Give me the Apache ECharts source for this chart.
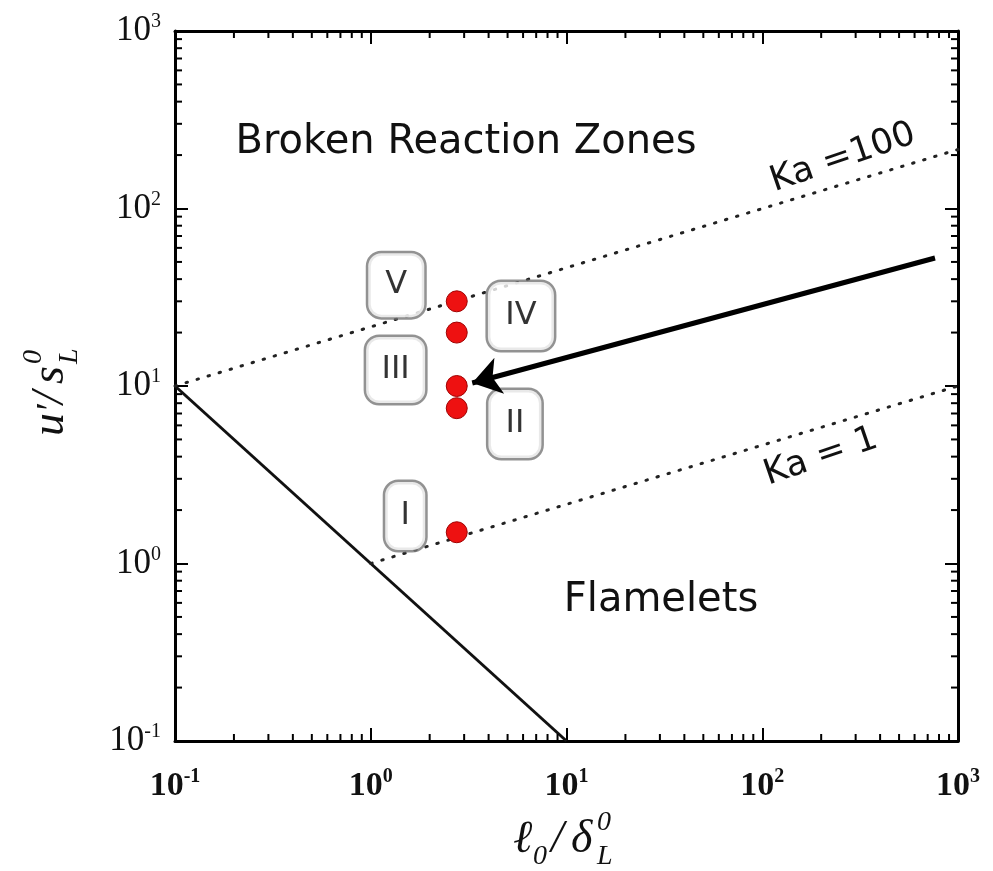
<!DOCTYPE html>
<html>
<head>
<meta charset="utf-8">
<script src="https://cdn.jsdelivr.net/npm/echarts@6/dist/echarts.min.js"></script>
<style>
  html, body { margin: 0; padding: 0; background: #fff; }
  #chart { width: 993px; height: 871px; }
</style>
</head>
<body>
<div id="chart"></div>
<script>
// Regime boundaries on the (l0/dL, u'/sL) diagram
const kolmogorovLine = [[0.1, 10], [10, 0.1]];
const ka100Line = [[0.1, 10], [1000, 215]];
const ka1Line = [[1, 1], [1000, 10]];

// Simulated cases
const caseX = [2.75, 2.75, 2.75, 2.75, 2.75];
const caseY = [30, 20, 10, 7.5, 1.5];

// Case tags and their anchor positions (data units)
const caseNames = ['V', 'IV', 'III', 'II', 'I'];
const caseTagX = [1.35, 5.85, 1.34, 5.45, 1.5];
const caseTagY = [37, 24.8, 12.3, 6.1, 1.85];

// Pointer arrow (data units)
const arrowFrom = [763, 52.6];
const arrowTo = [3.3, 10.4];

// Axis ranges and tick values
const axisMin = 0.1, axisMax = 1000;
const decades = [0.1, 1, 10, 100];
const minorSteps = [2, 3, 4, 5, 6, 7, 8, 9];

const minorValues = [];
decades.forEach(d => minorSteps.forEach(m => minorValues.push(+(d * m).toPrecision(3))));

const tagBox = {
  V:   { w: 56, h: 64 },
  IV:  { w: 66, h: 68 },
  III: { w: 59, h: 66 },
  II:  { w: 53, h: 68 },
  I:   { w: 40, h: 68 }
};

const chart = echarts.init(document.getElementById('chart'), null, { renderer: 'canvas' });

function expLabel(v) {
  const e = Math.round(Math.log10(v));
  return '{b|10}{s|' + e + '}';
}

const axisLineStyle = { show: true, lineStyle: { color: '#000', width: 3 } };
const majorTick = { show: true, inside: true, length: 13, lineStyle: { color: '#000', width: 2 } };

function logAxis(extra) {
  return Object.assign({
    type: 'log', logBase: 10, min: axisMin, max: axisMax,
    axisLine: axisLineStyle, axisTick: majorTick,
    splitLine: { show: false }, minorTick: { show: false }
  }, extra);
}

function minorTicks(axis) {
  const data = minorValues.map(v => axis === 'x' ? [v, axisMin] : [axisMin, v]);
  return {
    type: 'custom', silent: true, clip: false, z: 6,
    xAxisIndex: 0, yAxisIndex: 0,
    encode: { x: 0, y: 1 },
    data: data,
    renderItem: function (params, api) {
      const st = { stroke: '#000', lineWidth: 2 };
      if (axis === 'x') {
        const v = api.value(0);
        const b = api.coord([v, axisMin]);
        const t = api.coord([v, axisMax]);
        return { type: 'group', children: [
          { type: 'line', shape: { x1: b[0], y1: b[1], x2: b[0], y2: b[1] - 7 }, style: st },
          { type: 'line', shape: { x1: t[0], y1: t[1], x2: t[0], y2: t[1] + 7 }, style: st }
        ] };
      }
      const v = api.value(1);
      const l = api.coord([axisMin, v]);
      const r = api.coord([axisMax, v]);
      return { type: 'group', children: [
        { type: 'line', shape: { x1: l[0], y1: l[1], x2: l[0] + 7, y2: l[1] }, style: st },
        { type: 'line', shape: { x1: r[0], y1: r[1], x2: r[0] - 7, y2: r[1] }, style: st }
      ] };
    }
  };
}

const mathFont = 'Liberation Serif';
const sansFont = 'DejaVu Sans';

function mathText(x, y, text, size, extra) {
  return Object.assign({
    type: 'text', x: x, y: y,
    style: { text: text, font: 'italic ' + size + 'px "' + mathFont + '"', fill: '#111',
             textAlign: 'left', textVerticalAlign: 'bottom' }
  }, extra || {});
}

const option = {
  backgroundColor: '#fff',
  animation: false,
  grid: { left: 175, right: 35, top: 31, bottom: 130, containLabel: false },
  xAxis: [
    logAxis({
      position: 'bottom',
      axisLabel: {
        margin: 26, formatter: expLabel,
        rich: {
          b: { fontFamily: mathFont, fontSize: 34, fontWeight: 'bold', color: '#111' },
          s: { fontFamily: mathFont, fontSize: 20, fontWeight: 'bold', color: '#111', padding: [0, 0, 18, 0] }
        }
      }
    }),
    logAxis({ position: 'top', axisLabel: { show: false } })
  ],
  yAxis: [
    logAxis({
      position: 'left',
      axisLabel: {
        margin: 14, formatter: expLabel,
        rich: {
          b: { fontFamily: mathFont, fontSize: 35, color: '#111' },
          s: { fontFamily: mathFont, fontSize: 20, color: '#111', padding: [0, 0, 18, 0] }
        }
      }
    }),
    logAxis({ position: 'right', axisLabel: { show: false } })
  ],
  series: [
    {
      name: 'Kolmogorov', type: 'line', data: kolmogorovLine, symbol: 'none', z: 2,
      lineStyle: { color: '#111', width: 3 }, silent: true
    },
    {
      name: 'Ka=100', type: 'line', data: ka100Line, symbol: 'none', z: 2,
      lineStyle: { color: '#222', width: 3, type: [1.5, 10], cap: 'round' }, silent: true
    },
    {
      name: 'Ka=1', type: 'line', data: ka1Line, symbol: 'none', z: 2,
      lineStyle: { color: '#222', width: 3, type: [1.5, 10], cap: 'round' }, silent: true
    },
    {
      name: 'tags', type: 'scatter', symbolSize: 0, z: 4, silent: true,
      data: caseNames.map((n, i) => ({
        name: n, value: [caseTagX[i], caseTagY[i]],
        label: { width: tagBox[n].w, height: tagBox[n].h, lineHeight: tagBox[n].h }
      })),
      label: {
        show: true, position: 'inside', formatter: '{b}',
        fontFamily: sansFont, fontSize: 32, color: '#000',
        align: 'center', verticalAlign: 'middle',
        backgroundColor: '#fff', borderColor: '#777', borderWidth: 2.5, borderRadius: 13,
        padding: 0
      }
    },
    {
      name: 'cases', type: 'scatter', z: 5, silent: true,
      symbol: 'circle', symbolSize: 21,
      itemStyle: { color: '#ee1111', borderColor: '#a00000', borderWidth: 1, opacity: 1 },
      data: caseX.map((x, i) => [x, caseY[i]])
    },
    {
      name: 'pointer', type: 'line', z: 6, silent: true, data: [],
      markLine: {
        silent: true, animation: false,
        symbol: ['none', 'arrow'], symbolSize: 28,
        label: { show: false },
        lineStyle: { color: '#000', width: 5, type: 'solid', opacity: 1 },
        data: [[{ coord: arrowFrom }, { coord: arrowTo }]]
      }
    },
    minorTicks('x'),
    minorTicks('y')
  ],
  graphic: [
    {
      type: 'text', x: 466, y: 143, z: 10,
      style: { text: 'Broken Reaction Zones', font: '40px "' + sansFont + '"', fill: '#111',
               textAlign: 'center', textVerticalAlign: 'middle' }
    },
    {
      type: 'text', x: 661, y: 601, z: 10,
      style: { text: 'Flamelets', font: '40px "' + sansFont + '"', fill: '#111',
               textAlign: 'center', textVerticalAlign: 'middle' }
    },
    {
      type: 'text', x: 843, y: 158, rotation: 19 * Math.PI / 180, z: 10,
      style: { text: 'Ka =100', font: '35px "' + sansFont + '"', fill: '#111',
               textAlign: 'center', textVerticalAlign: 'middle' }
    },
    {
      type: 'text', x: 821, y: 457, rotation: 19 * Math.PI / 180, z: 10,
      style: { text: 'Ka = 1', font: '35px "' + sansFont + '"', fill: '#111',
               textAlign: 'center', textVerticalAlign: 'middle' }
    },
    // x-axis name: l0 / dL^0
    {
      type: 'group', x: 513, y: 863, z: 10,
      children: [
        mathText(0, 0, 'ℓ', 46),
        mathText(20, 8, '0', 28),
        mathText(38, 0, '/', 46),
        mathText(58, 0, 'δ', 46),
        mathText(84, -26, '0', 28),
        mathText(84, 8, 'L', 28)
      ]
    },
    // y-axis name: u' / sL^0 (rotated)
    {
      type: 'group', x: 48, y: 386, rotation: Math.PI / 2, z: 10,
      children: [
        mathText(-50, 26, 'u', 46),
        mathText(-27, 24, '′', 40),
        mathText(-18, 26, '/', 46),
        mathText(2, 26, 's', 46),
        mathText(22, 0, '0', 28),
        mathText(22, 36, 'L', 28)
      ]
    }
  ]
};

chart.setOption(option);
</script>
</body>
</html>
